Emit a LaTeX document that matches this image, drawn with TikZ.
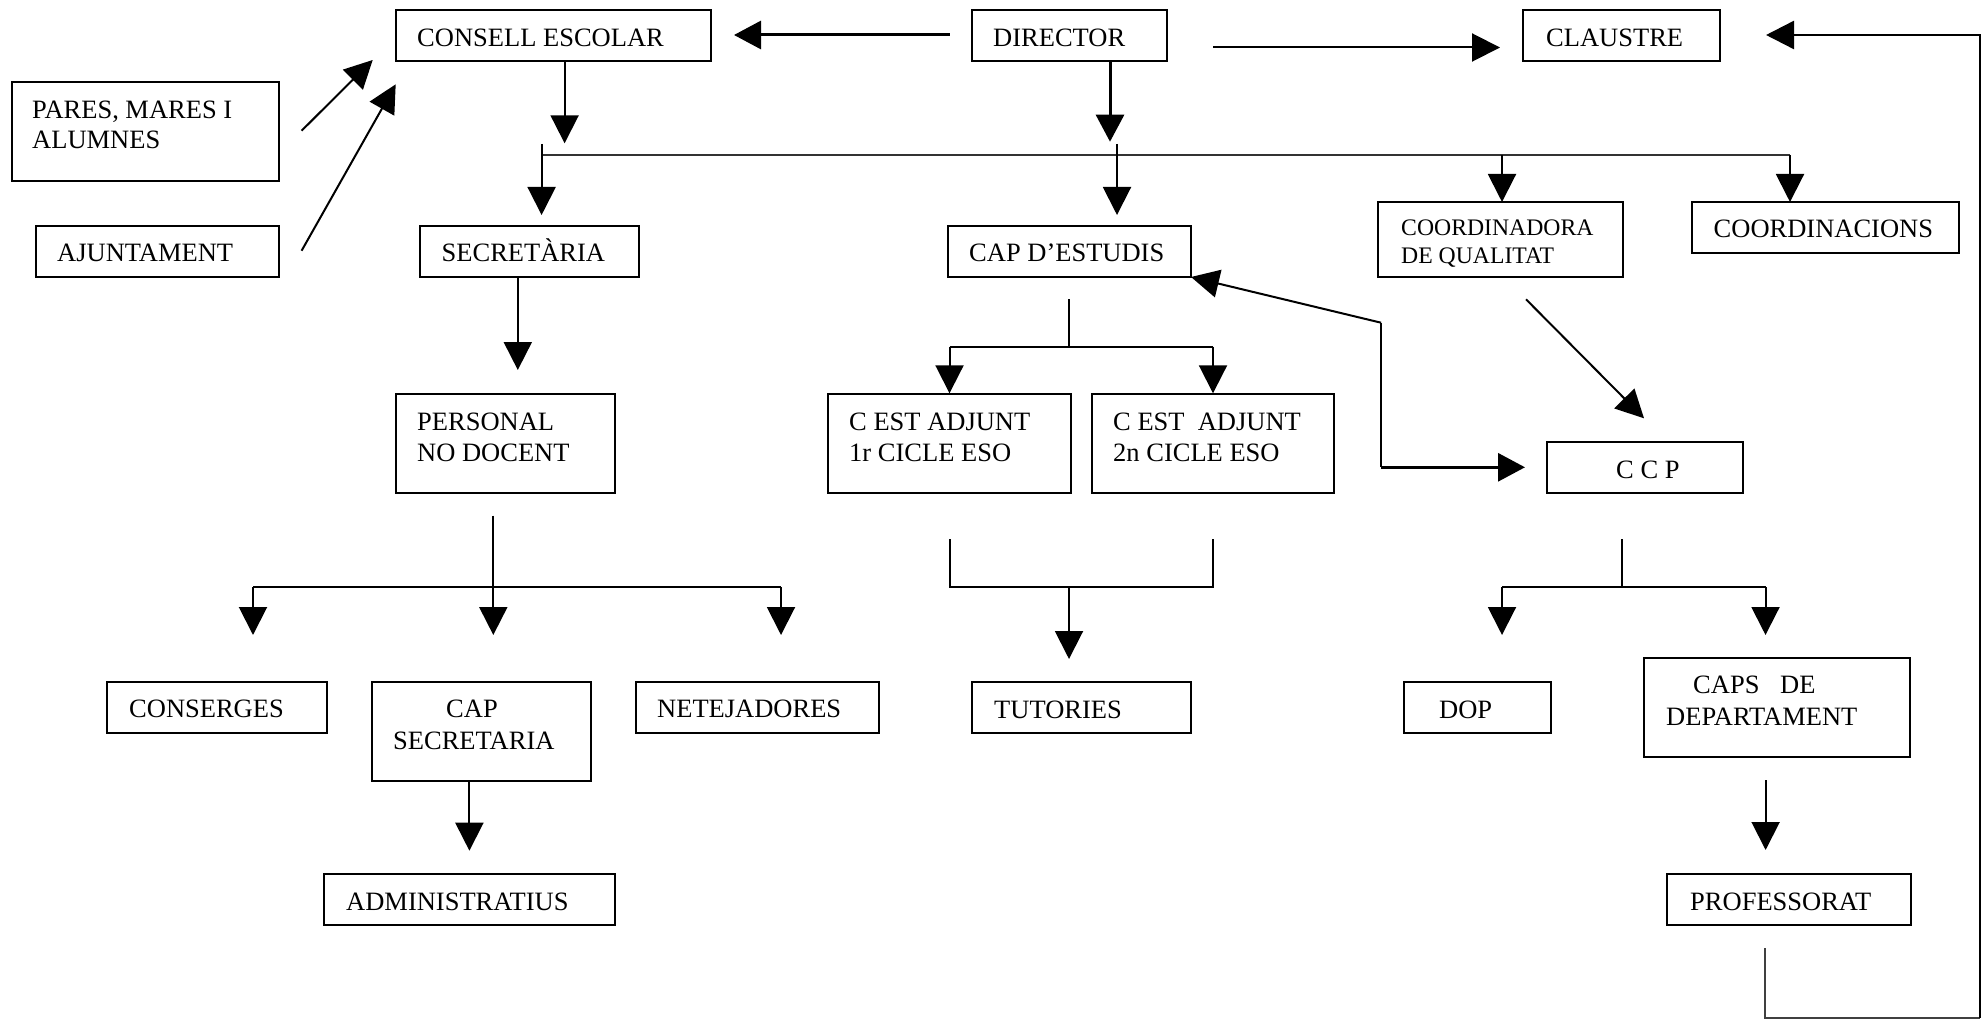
\documentclass[tikz,border=0pt]{standalone}
\usepackage{fontspec}
\setmainfont{Liberation Serif}
\usetikzlibrary{arrows.meta}
\begin{document}
\begin{tikzpicture}[x=1pt,y=-1pt,
  box/.style={draw, line width=2.5pt, rectangle, anchor=north west, inner sep=0pt, outer sep=0pt},
  txt/.style={inner sep=0pt, anchor=base west, font=\fontsize{26.5}{31}\selectfont},
  stxt/.style={inner sep=0pt, anchor=base west, font=\fontsize{23.7}{28}\selectfont},
  ln/.style={line width=2pt, black},
  arr/.style={line width=2pt, -{Triangle[length=28pt,width=28pt]}},
  tharr/.style={line width=3pt, -{Triangle[length=27pt,width=28pt]}},
  bus/.style={line width=2.4pt, black!80}
]
\useasboundingbox (0,0) rectangle (1988,1019);
\fill[white] (0,0) rectangle (1988,1019);

% ---------- boxes ----------
\node[box, minimum width=315pt, minimum height=51pt] (cons) at (396,10) {};
\node[box, minimum width=195pt, minimum height=51pt] (dir) at (972,10) {};
\node[box, minimum width=197pt, minimum height=51pt] (cla) at (1523,10) {};
\node[box, minimum width=267pt, minimum height=99pt] (pares) at (12,82) {};
\node[box, minimum width=243pt, minimum height=51pt] (ajun) at (36,226) {};
\node[box, minimum width=219pt, minimum height=51pt] (secr) at (420,226) {};
\node[box, minimum width=243pt, minimum height=51pt] (cape) at (948,226) {};
\node[box, minimum width=245pt, minimum height=75pt] (cq) at (1378,202) {};
\node[box, minimum width=267pt, minimum height=51pt] (coords) at (1692,202) {};
\node[box, minimum width=219pt, minimum height=99pt] (pers) at (396,394) {};
\node[box, minimum width=243pt, minimum height=99pt] (adj1) at (828,394) {};
\node[box, minimum width=242pt, minimum height=99pt] (adj2) at (1092,394) {};
\node[box, minimum width=196pt, minimum height=51pt] (ccp) at (1547,442) {};
\node[box, minimum width=219pt, minimum height=51pt] (tut) at (972,682) {};
\node[box, minimum width=147pt, minimum height=51pt] (dop) at (1404,682) {};
\node[box, minimum width=266pt, minimum height=99pt] (caps) at (1644,658) {};
\node[box, minimum width=220pt, minimum height=51pt] (conse) at (107,682) {};
\node[box, minimum width=219pt, minimum height=99pt] (capsec) at (372,682) {};
\node[box, minimum width=243pt, minimum height=51pt] (net) at (636,682) {};
\node[box, minimum width=291pt, minimum height=51pt] (adm) at (324,874) {};
\node[box, minimum width=244pt, minimum height=51pt] (prof) at (1667,874) {};

% ---------- texts ----------
\node[txt] (consT) at (417,46.7) {CONSELL ESCOLAR};
\node[txt] (dirT) at (993,46.7) {DIRECTOR};
\node[txt] (claT) at (1546,46.7) {CLAUSTRE};
\node[txt] (paresT1) at (32,118.3) {PARES, MARES I};
\node[txt] (paresT2) at (32,148.8) {ALUMNES};
\node[txt] (ajunT) at (57,261.7) {AJUNTAMENT};
\node[txt] (secrT) at (441.5,261.7) {SECRETÀRIA};
\node[txt] (capeT) at (969,261.7) {CAP D’ESTUDIS};
\node[stxt] (cqT1) at (1401,235) {COORDINADORA};
\node[stxt] (cqT2) at (1401,263.3) {DE QUALITAT};
\node[txt] (coordsT) at (1713.5,237.3) {COORDINACIONS};
\node[txt] (persT1) at (417,430) {PERSONAL};
\node[txt] (persT2) at (417,461) {NO DOCENT};
\node[txt] (adj1T1) at (849,430) {C EST ADJUNT};
\node[txt] (adj1T2) at (849,461) {1r CICLE ESO};
\node[txt] (adj2T1) at (1113,430) {C EST\hspace{6.6pt} ADJUNT};
\node[txt] (adj2T2) at (1113,461) {2n CICLE ESO};
\node[txt] (ccpT) at (1616,478.3) {C C P};
\node[txt] (tutT) at (994,718.3) {TUTORIES};
\node[txt] (dopT) at (1439,718.3) {DOP};
\node[txt] (capsT1) at (1693,693.3) {CAPS\hspace{14pt} DE};
\node[txt] (capsT2) at (1666,725) {DEPARTAMENT};
\node[txt] (conseT) at (129,717.3) {CONSERGES};
\node[txt] (capsecT1) at (446,717.3) {CAP};
\node[txt] (capsecT2) at (393,749) {SECRETARIA};
\node[txt] (netT) at (657,717.3) {NETEJADORES};
\node[txt] (admT) at (346,910) {ADMINISTRATIUS};
\node[txt] (profT) at (1690,910) {PROFESSORAT};

% ---------- free connector ends ----------
\coordinate (dL) at (949.5,35);
\coordinate (dLe) at (734,35);
\coordinate (dR) at (1213,47.5);
\coordinate (dRe) at (1500,47.5);
\coordinate (dD) at (1110,61);
\coordinate (dDe) at (1110,141.7);
\coordinate (cD) at (564.6,61);
\coordinate (cDe) at (564.6,143.3);
\coordinate (busL) at (541.6,155);
\coordinate (busR) at (1790,155);
\coordinate (sTop) at (541.6,144);
\coordinate (sTip) at (541.6,215);
\coordinate (eTop) at (1117,144);
\coordinate (eTip) at (1117,215);
\coordinate (qB) at (1502,155);
\coordinate (qTip) at (1502,202);
\coordinate (nTip) at (1790,202);
\coordinate (pS) at (301.6,130.7);
\coordinate (pE) at (372.7,60);
\coordinate (aS) at (301.6,250.7);
\coordinate (aE) at (395.7,84.3);
\coordinate (sD) at (517.8,277);
\coordinate (sDe) at (517.8,370);
\coordinate (eD) at (1069,299.3);
\coordinate (eB) at (1069,346.7);
\coordinate (eBL) at (949.5,346.7);
\coordinate (eBR) at (1213,346.7);
\coordinate (eTL) at (949.5,393.3);
\coordinate (eTR) at (1213,393.3);
\coordinate (k1) at (1381,322.7);
\coordinate (k2) at (1381,467.3);
\coordinate (k3) at (1525,467.3);
\coordinate (qS) at (1526,299.3);
\coordinate (qE) at (1644,418.3);
\coordinate (pD) at (493.3,515.7);
\coordinate (pB) at (493.3,587.3);
\coordinate (pDe) at (493.3,635);
\coordinate (pBL) at (253,587.3);
\coordinate (pBR) at (781,587.3);
\coordinate (pTL) at (253,635);
\coordinate (pTR) at (781,635);
\coordinate (csD) at (469.4,781);
\coordinate (csDe) at (469.4,850.7);
\coordinate (tL) at (949.5,539.3);
\coordinate (tBL) at (949.5,587);
\coordinate (tBR) at (1213,587);
\coordinate (tR) at (1213,539.3);
\coordinate (tM) at (1069,587);
\coordinate (tMe) at (1069,659);
\coordinate (cpD) at (1622,539.3);
\coordinate (cpB) at (1622,587);
\coordinate (cpBL) at (1502,587);
\coordinate (cpBR) at (1765.5,587);
\coordinate (cpTL) at (1502,635);
\coordinate (cpTR) at (1765.5,635);
\coordinate (caD) at (1765.6,780);
\coordinate (caDe) at (1765.6,850);
\coordinate (r1) at (1765,948);
\coordinate (r2) at (1765,1017.5);
\coordinate (r3) at (1980,1017.5);
\coordinate (r4) at (1980,35);
\coordinate (r5) at (1766,35);

% ---------- connectors ----------
\draw[tharr] (dL) -- (dLe);
\draw[arr] (dR) -- (dRe);
\draw[tharr] (dD) -- (dDe);
\draw[arr] (cD) -- (cDe);
\draw[bus] (busL) -- (busR);
\draw[arr] (sTop) -- (sTip);
\draw[arr] (eTop) -- (eTip);
\draw[arr] (qB) -- (qTip);
\draw[arr] (busR) -- (nTip);
\draw[arr] (pS) -- (pE);
\draw[arr] (aS) -- (aE);
\draw[arr] (sD) -- (sDe);
\draw[ln] (eD) -- (eB);
\draw[ln] (eBL) -- (eBR);
\draw[arr] (eBL) -- (eTL);
\draw[arr] (eBR) -- (eTR);
\draw[arr] (k1) -- (cape.south east);
\draw[ln] (k1) -- (k2);
\draw[tharr] (k2) -- (k3);
\draw[arr] (qS) -- (qE);
\draw[arr] (pD) -- (pDe);
\draw[ln] (pBL) -- (pBR);
\draw[arr] (pBL) -- (pTL);
\draw[arr] (pBR) -- (pTR);
\draw[arr] (csD) -- (csDe);
\draw[ln] (tL) -- (tBL) -- (tBR) -- (tR);
\draw[arr] (tM) -- (tMe);
\draw[ln] (cpD) -- (cpB);
\draw[ln] (cpBL) -- (cpBR);
\draw[arr] (cpBL) -- (cpTL);
\draw[arr] (cpBR) -- (cpTR);
\draw[arr] (caD) -- (caDe);
\draw[line width=2pt, black!75] (r1) -- (r2) -- (r3);
\draw[line width=2.5pt, -{Triangle[length=28pt,width=28pt]}] (r3) -- (r4) -- (r5);
\end{tikzpicture}
\end{document}
